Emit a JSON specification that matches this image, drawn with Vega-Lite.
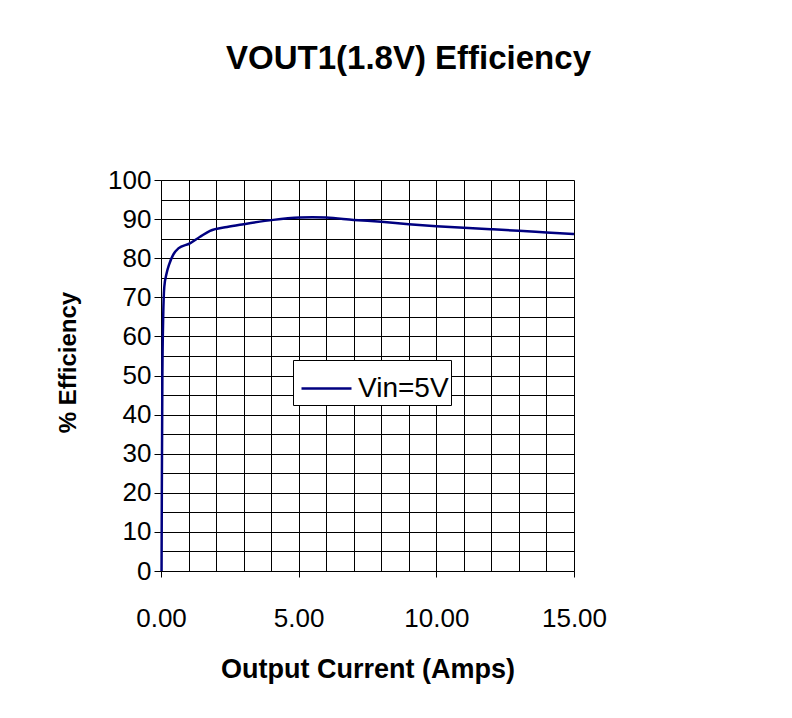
{
  "$schema": "https://vega.github.io/schema/vega-lite/v6.json",
  "width": 413,
  "height": 391,
  "autosize": "none",
  "padding": {"left": 161, "top": 180, "right": 218, "bottom": 147},
  "background": "white",
  "title": {
    "text": "VOUT1(1.8V) Efficiency",
    "font": "Liberation Sans",
    "fontSize": 33,
    "fontWeight": "bold",
    "color": "black",
    "anchor": "middle",
    "frame": "group",
    "dx": 41,
    "offset": 91
  },
  "data": {
    "values": [
      {"current": 0.02, "eff": 0, "series": "Vin=5V"},
      {"current": 0.03, "eff": 20, "series": "Vin=5V"},
      {"current": 0.05, "eff": 50, "series": "Vin=5V"},
      {"current": 0.08, "eff": 65, "series": "Vin=5V"},
      {"current": 0.12, "eff": 72.7, "series": "Vin=5V"},
      {"current": 0.2, "eff": 76, "series": "Vin=5V"},
      {"current": 0.3, "eff": 78.5, "series": "Vin=5V"},
      {"current": 0.45, "eff": 81, "series": "Vin=5V"},
      {"current": 0.63, "eff": 82.5, "series": "Vin=5V"},
      {"current": 1.05, "eff": 83.8, "series": "Vin=5V"},
      {"current": 1.42, "eff": 85.5, "series": "Vin=5V"},
      {"current": 1.78, "eff": 87, "series": "Vin=5V"},
      {"current": 2.4, "eff": 88, "series": "Vin=5V"},
      {"current": 3.0, "eff": 88.7, "series": "Vin=5V"},
      {"current": 4.08, "eff": 89.8, "series": "Vin=5V"},
      {"current": 5.05, "eff": 90.4, "series": "Vin=5V"},
      {"current": 5.5, "eff": 90.5, "series": "Vin=5V"},
      {"current": 6.0, "eff": 90.4, "series": "Vin=5V"},
      {"current": 7.0, "eff": 89.8, "series": "Vin=5V"},
      {"current": 8.0, "eff": 89.3, "series": "Vin=5V"},
      {"current": 9.0, "eff": 88.7, "series": "Vin=5V"},
      {"current": 10.0, "eff": 88.2, "series": "Vin=5V"},
      {"current": 11.0, "eff": 87.8, "series": "Vin=5V"},
      {"current": 12.0, "eff": 87.4, "series": "Vin=5V"},
      {"current": 13.0, "eff": 87.0, "series": "Vin=5V"},
      {"current": 14.0, "eff": 86.6, "series": "Vin=5V"},
      {"current": 15.0, "eff": 86.2, "series": "Vin=5V"}
    ]
  },
  "mark": {"type": "line", "interpolate": "monotone", "strokeWidth": 2.5},
  "encoding": {
    "x": {
      "field": "current",
      "type": "quantitative",
      "scale": {"domain": [0, 15], "nice": false, "zero": true},
      "axis": {
        "title": "Output Current (Amps)",
        "titleFontSize": 27,
        "values": [0,1,2,3,4,5,6,7,8,9,10,11,12,13,14,15],
        "labelExpr": "datum.value % 5 === 0 ? format(datum.value, '.2f') : ''",
        "tickOpacity": {"condition": {"test": "datum.value % 5 === 0", "value": 1}, "value": 0},
        "tickSize": 6,
        "labelPadding": 28,
        "titlePadding": 25
      }
    },
    "y": {
      "field": "eff",
      "type": "quantitative",
      "scale": {"domain": [0, 100], "nice": false},
      "axis": {
        "title": "% Efficiency",
        "titleFontSize": 24,
        "titleY": 182,
        "values": [0,5,10,15,20,25,30,35,40,45,50,55,60,65,70,75,80,85,90,95,100],
        "labelExpr": "datum.value % 10 === 0 ? format(datum.value, 'd') : ''",
        "tickOpacity": {"condition": {"test": "datum.value % 10 === 0", "value": 1}, "value": 0},
        "tickSize": 7,
        "labelPadding": 3,
        "titlePadding": 27
      }
    },
    "color": {
      "field": "series",
      "type": "nominal",
      "scale": {"range": ["#000080"]},
      "legend": {
        "title": null,
        "orient": "none",
        "legendX": 132,
        "legendY": 180,
        "strokeColor": "black",
        "fillColor": "white",
        "padding": 2,
        "cornerRadius": 0,
        "symbolType": "stroke",
        "symbolSize": 2500,
        "symbolStrokeWidth": 2.5,
        "symbolOffset": 5,
        "labelOffset": 5,
        "labelFont": "Liberation Sans",
        "labelFontSize": 28,
        "labelColor": "black"
      }
    }
  },
  "config": {
    "view": {"stroke": null},
    "axis": {
      "grid": true,
      "gridColor": "#000000",
      "gridOpacity": 1,
      "gridWidth": 1,
      "domainColor": "#000000",
      "domainWidth": 1,
      "tickColor": "#000000",
      "labelFlush": false,
      "labelFont": "Liberation Sans",
      "labelFontSize": 26,
      "labelColor": "#000000",
      "titleFont": "Liberation Sans",
      "titleFontWeight": "bold",
      "titleColor": "#000000"
    }
  }
}
